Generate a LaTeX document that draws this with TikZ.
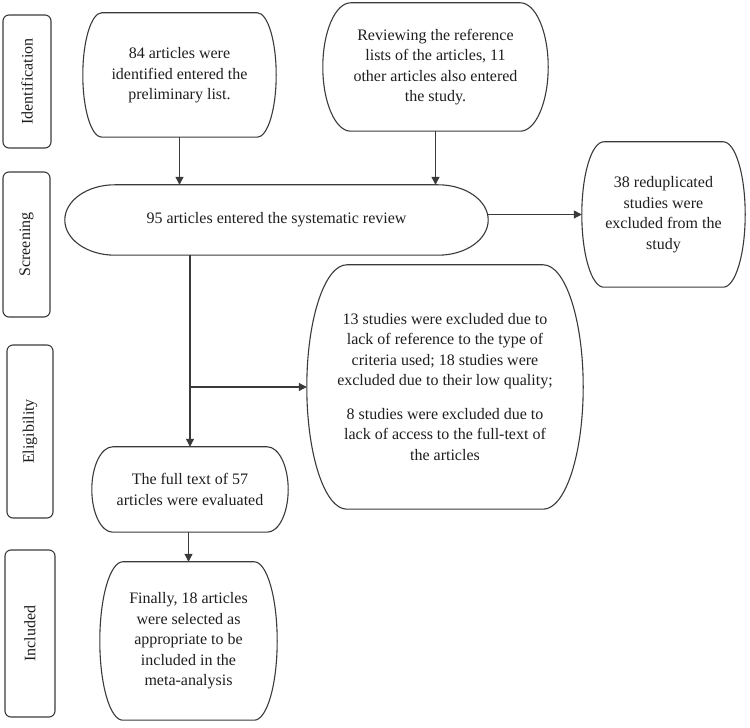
\documentclass[tikz,border=0pt]{standalone}
\usepackage{fontspec}
\setmainfont{Liberation Serif}
\usetikzlibrary{arrows.meta,calc}
\definecolor{ink}{HTML}{3A3A3A}
\definecolor{txt}{HTML}{1E1E1E}
\tikzset{
  outl/.style={draw=ink,line width=1.1pt},
  content/.style={align=center,text=txt,font=\fontsize{16}{20.5}\selectfont,inner sep=0pt},
  stage/.style={draw=ink,line width=1.1pt,rounded corners=6pt,text=txt,
    font=\fontsize{16}{20}\selectfont,inner sep=0pt},
  arr/.style={draw=ink,line width=1.1pt,-{Triangle[length=8pt,width=8pt]}},
  ln/.style={draw=ink,line width=1.1pt}
}
\newcommand\capsule[2]{%
  \draw[outl] let \p1=(#1.north west), \p2=(#1.south east), \n1={(\y1-\y2)/2} in
    ($(\x1,\y1)+(#2pt,0)$) -- ($(\x2,\y1)-(#2pt,0)$)
    arc[start angle=90,end angle=-90,x radius=#2pt,y radius=\n1]
    -- ($(\x1,\y2)+(#2pt,0)$)
    arc[start angle=270,end angle=90,x radius=#2pt,y radius=\n1] -- cycle;}
\begin{document}
\begin{tikzpicture}[x=1pt,y=1pt]
\useasboundingbox (0,0) rectangle (750,728);
% stage labels
\node[stage,minimum width=48pt,minimum height=133pt] (sId) at (27,646.5) {\rotatebox{90}{Identification}};
\node[stage,minimum width=47pt,minimum height=145pt] (sScr) at (26.5,483.5) {\rotatebox{90}{Screening}};
\node[stage,minimum width=46pt,minimum height=173pt] (sElig) at (30,296.5) {\rotatebox{90}{Eligibility}};
\node[stage,minimum width=50pt,minimum height=167pt] (sInc) at (30,94.5) {\rotatebox{90}{Included}};
% content boxes
\node[content,minimum width=193pt,minimum height=124pt] (b84) at (179.5,653)
  {\raisebox{12pt}{\begin{tabular}{@{}c@{}}84 articles were\\identified entered the\\preliminary list.\end{tabular}}};
\node[content,minimum width=225pt,minimum height=128pt] (bRev) at (435.5,661)
  {Reviewing the reference\\lists of the articles, 11\\other articles also entered\\the study.};
\node[content,minimum width=423pt,minimum height=70pt] (b95) at (276.5,508)
  {95 articles entered the systematic review};
\node[content,minimum width=163pt,minimum height=145pt] (b38) at (663.5,513.5)
  {\raisebox{14pt}{\begin{tabular}{@{}c@{}}38 reduplicated\\studies were\\excluded from the\\study\end{tabular}}};
\node[content,minimum width=276pt,minimum height=244pt] (bExc) at (445,341)
  {13 studies were excluded due to\\lack of reference to the type of\\criteria used; 18 studies were\\excluded due to their low quality;\\[13pt]8 studies were excluded due to\\lack of access to the full-text of\\the articles};
\node[content,minimum width=196pt,minimum height=85pt] (bFull) at (190,238.5)
  {The full text of 57\\articles were evaluated};
\node[content,minimum width=177pt,minimum height=158pt] (bFin) at (188.5,87)
  {Finally, 18 articles\\were selected as\\appropriate to be\\included in the\\meta-analysis};
% outlines
\capsule{b84}{19}
\capsule{bRev}{28}
\capsule{b95}{50}
\capsule{b38}{22}
\capsule{bExc}{40}
\capsule{bFull}{21}
\capsule{bFin}{23}
% connectors
\draw[arr] (b84.south) -- (b84.south |- b95.north);
\draw[arr] (bRev.south) -- (bRev.south |- b95.north);
\draw[arr] (b38.west -| b95.east) -- (b38.west);
\draw[arr] (b95.south -| bFull.north) -- (bFull.north);
\coordinate (br) at (bExc.west -| bFull.north);
\draw[arr] (br) -- (bExc.west);
\draw[arr] (bFin.north |- bFull.south) -- (bFin.north);
\end{tikzpicture}
\end{document}
